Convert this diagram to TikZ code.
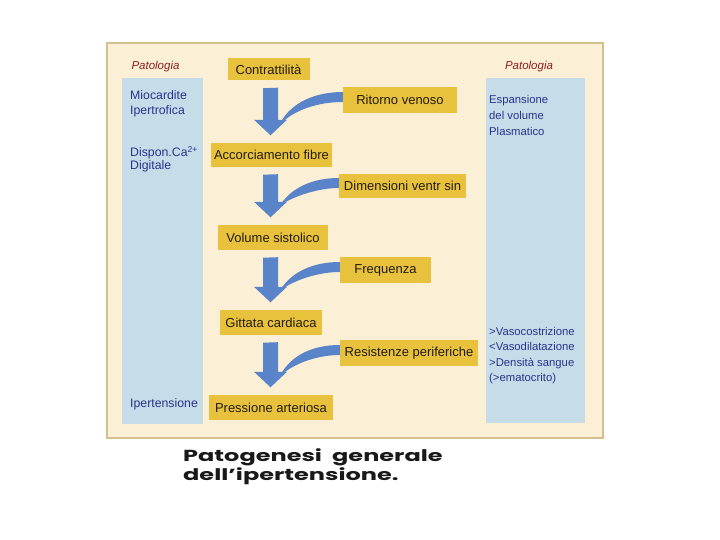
\documentclass[tikz,border=0pt]{standalone}
\usepackage{fontspec}
\setmainfont{Liberation Sans}
\newfontfamily\capfont{Poppins}[FakeStretch=1.5]
\usepackage{tikz}
\usetikzlibrary{calc, positioning}
\definecolor{cream}{HTML}{FBF0D5}
\definecolor{creamline}{HTML}{D6BF8E}
\definecolor{panelblue}{HTML}{C7DCE9}
\definecolor{boxgold}{HTML}{E8C23D}
\definecolor{boxink}{HTML}{241C10}
\definecolor{flowblue}{HTML}{5A84C9}
\definecolor{inkblue}{HTML}{28358A}
\definecolor{pathred}{HTML}{8C1E22}

% straight block arrow between two boxes of the main column
\newcommand{\downflow}[2]{%
  \fill[flowblue] let \p1=(#1.south), \p2=(#2.north) in
    (263pt,\y1-7.5pt) -- (278pt,\y1-7pt) -- (278pt,\y2+23pt) -- (287pt,\y2+23pt)
    -- (270.5pt,\y2+7.5pt) -- (254pt,\y2+23pt) -- (263pt,\y2+23pt) -- cycle;}
% curved tapering band from a side factor into the arrow head
\newcommand{\sideflow}[2]{%
  \fill[flowblue] let \p1=(#1.west), \p2=(#2.north) in
    (\x1,\y1+8pt) .. controls (\x1-27pt,\y1+8pt) and (292pt,\y1-2pt) .. (281pt,\y2+21pt)
    -- (284pt,\y2+22pt) .. controls (296pt,\y1-10pt) and (318pt,\y1-2pt) .. (\x1,\y1-2pt) -- cycle;}

\begin{document}
\begin{tikzpicture}[x=1pt, y=-1pt,
  gbox/.style={rectangle, fill=boxgold, text=boxink, minimum height=25, inner xsep=2pt,
               font=\fontsize{13}{15}\selectfont},
  sidetext/.style={anchor=north west, inner sep=0, align=left, text=inkblue},
  pathlabel/.style={inner sep=0, text=pathred, font=\fontsize{11.5}{13}\selectfont\itshape}
]
  \useasboundingbox (0,0) rectangle (720,540);

  % panels
  \draw[fill=cream, draw=creamline, line width=1.5] (107,43) rectangle (603,438);
  \fill[panelblue] (122,78) rectangle (203,424);
  \fill[panelblue] (486,78) rectangle (585,423);

  \node[pathlabel] (patl) at (155.5,67) {Patologia};
  \node[pathlabel] (patr) at (529,67) {Patologia};

  % main chain
  \node[gbox, minimum width=82, minimum height=22] (contr) at (268.5,69.5) {Contrattilità};
  \node[gbox, minimum width=121, minimum height=24] (accorc) at (271.5,155) {Accorciamento fibre};
  \node[gbox, minimum width=110] (volume) at (273,237.5) {Volume sistolico};
  \node[gbox, minimum width=102] (gittata) at (271,322.5) {Gittata cardiaca};
  \node[gbox, minimum width=124] (pressione) at (271,407.5) {Pressione arteriosa};

  % side factors
  \node[gbox, minimum width=114, minimum height=26] (ritorno) at (400,100) {Ritorno venoso};
  \node[gbox, minimum width=127, minimum height=24] (dimens) at (402.5,186) {Dimensioni ventr sin};
  \node[gbox, minimum width=91, minimum height=26] (freq) at (385.5,270) {Frequenza};
  \node[gbox, minimum width=138, minimum height=26] (resist) at (409,353) {Resistenze periferiche};

  \downflow{contr}{accorc}
  \downflow{accorc}{volume}
  \downflow{volume}{gittata}
  \downflow{gittata}{pressione}

  \sideflow{ritorno}{accorc}
  \sideflow{dimens}{volume}
  \sideflow{freq}{gittata}
  \sideflow{resist}{pressione}

  % pathology notes
  \node[sidetext, font=\fontsize{12.3}{15}\selectfont] (mioc) at (130,90) {Miocardite\\Ipertrofica};
  \node[sidetext, font=\fontsize{12.3}{13}\selectfont] (dispon) at (130,146) {Dispon.Ca\textsuperscript{2+}\\Digitale};
  \node[sidetext, font=\fontsize{12.3}{15}\selectfont] (iperl) at (130,398) {Ipertensione};
  \node[sidetext, font=\fontsize{11.3}{16}\selectfont] (espans) at (489,95) {Espansione\\del volume\\Plasmatico};
  \node[sidetext, font=\fontsize{11.3}{15.5}\selectfont] (vaso) at (489,327)
    {>Vasocostrizione\\<Vasodilatazione\\>Densità sangue\\(>ematocrito)};

  \node[anchor=north west, inner sep=0, align=left, text=black!90,
        font=\capfont\bfseries\fontsize{16}{19}\selectfont] (caption) at (183,448)
    {Patogenesi\ \ generale\\dell’ipertensione.};
\end{tikzpicture}
\end{document}
